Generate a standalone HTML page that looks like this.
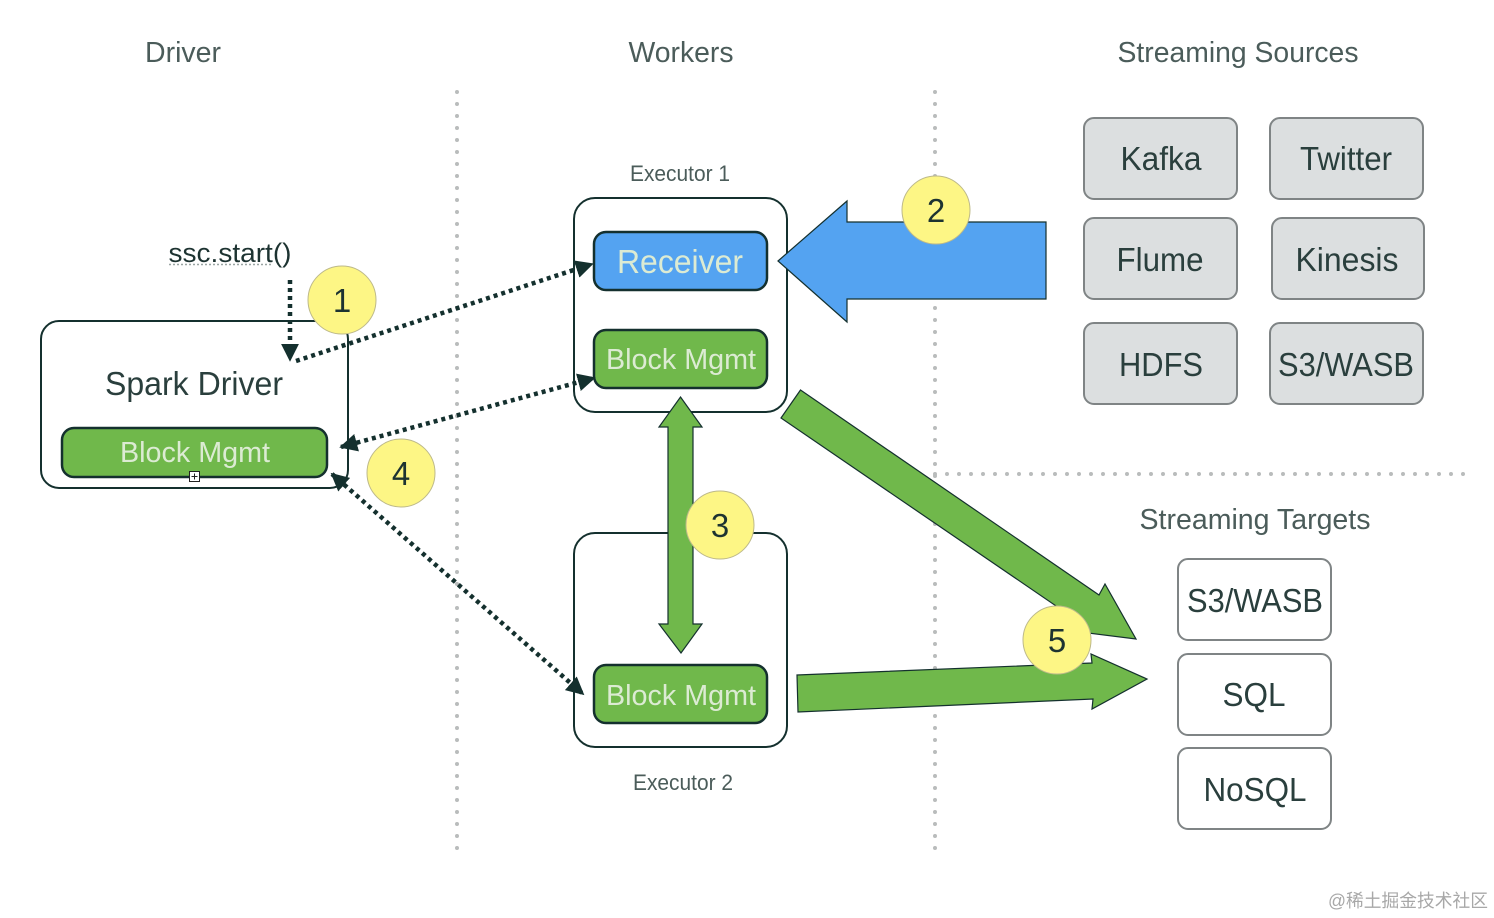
<!DOCTYPE html>
<html>
<head>
<meta charset="utf-8">
<style>
html,body{margin:0;padding:0;background:#fff;width:1494px;height:918px;overflow:hidden}
svg{display:block}
text{font-family:"Liberation Sans","Noto Sans CJK SC",sans-serif;fill:#1d3331;text-anchor:middle}
.h{font-size:29px;fill:#4b5c5a}
.b{font-size:33px;fill:#2a3f3d}
.w{fill:#dcebd3;font-size:29px}
.c{font-size:33px}
.e{font-size:22px;fill:#4b5c5a}
</style>
</head>
<body>
<svg width="1494" height="918" viewBox="0 0 1494 918" xmlns="http://www.w3.org/2000/svg">
<defs>
<marker id="ah" viewBox="0 0 10 10" refX="9" refY="5" markerWidth="18" markerHeight="18" markerUnits="userSpaceOnUse" orient="auto"><path d="M0 0L10 5L0 10Z" fill="#14302e"/></marker>
<marker id="as" viewBox="0 0 10 10" refX="9" refY="5" markerWidth="18" markerHeight="18" markerUnits="userSpaceOnUse" orient="auto-start-reverse"><path d="M0 0L10 5L0 10Z" fill="#14302e"/></marker>
</defs>

<!-- separators -->
<g stroke="#b9bcbc" stroke-width="4" stroke-linecap="round" stroke-dasharray="0 12" fill="none">
<path d="M457 92V852"/>
<path d="M935 92V852"/>
<path d="M935 474H1472"/>
</g>

<!-- headings -->
<text class="h" x="183" y="62" textLength="76" lengthAdjust="spacingAndGlyphs">Driver</text>
<text class="h" x="681" y="62" textLength="105" lengthAdjust="spacingAndGlyphs">Workers</text>
<text class="h" x="1238" y="62" textLength="241" lengthAdjust="spacingAndGlyphs">Streaming Sources</text>
<text class="h" x="1255" y="529" textLength="231" lengthAdjust="spacingAndGlyphs">Streaming Targets</text>
<text class="e" x="680" y="181" textLength="100" lengthAdjust="spacingAndGlyphs">Executor 1</text>
<text class="e" x="683" y="790" textLength="100" lengthAdjust="spacingAndGlyphs">Executor 2</text>

<!-- source boxes -->
<g fill="#dcdfe0" stroke="#7f8485" stroke-width="2">
<rect x="1084" y="118" width="153" height="81" rx="10"/>
<rect x="1270" y="118" width="153" height="81" rx="10"/>
<rect x="1084" y="218" width="153" height="81" rx="10"/>
<rect x="1272" y="218" width="152" height="81" rx="10"/>
<rect x="1084" y="323" width="153" height="81" rx="10"/>
<rect x="1270" y="323" width="153" height="81" rx="10"/>
</g>
<text class="b" x="1161" y="170" textLength="81" lengthAdjust="spacingAndGlyphs">Kafka</text>
<text class="b" x="1346" y="170" textLength="92" lengthAdjust="spacingAndGlyphs">Twitter</text>
<text class="b" x="1160" y="271" textLength="87" lengthAdjust="spacingAndGlyphs">Flume</text>
<text class="b" x="1347" y="271" textLength="103" lengthAdjust="spacingAndGlyphs">Kinesis</text>
<text class="b" x="1161" y="376" textLength="84" lengthAdjust="spacingAndGlyphs">HDFS</text>
<text class="b" x="1346" y="376" textLength="136" lengthAdjust="spacingAndGlyphs">S3/WASB</text>

<!-- target boxes -->
<g fill="#fff" stroke="#7f8485" stroke-width="2">
<rect x="1178" y="559" width="153" height="81" rx="10"/>
<rect x="1178" y="654" width="153" height="81" rx="10"/>
<rect x="1178" y="748" width="153" height="81" rx="10"/>
</g>
<text class="b" x="1255" y="612" textLength="136" lengthAdjust="spacingAndGlyphs">S3/WASB</text>
<text class="b" x="1254" y="706" textLength="63" lengthAdjust="spacingAndGlyphs">SQL</text>
<text class="b" x="1255" y="801" textLength="103" lengthAdjust="spacingAndGlyphs">NoSQL</text>

<!-- executors and driver -->
<g fill="#fff" stroke="#14302e" stroke-width="2">
<rect x="41" y="321" width="307" height="167" rx="18"/>
<rect x="574" y="198" width="213" height="214" rx="21"/>
<rect x="574" y="533" width="213" height="214" rx="21"/>
</g>
<text x="194" y="395" font-size="33" style="fill:#2a3f3d" textLength="178" lengthAdjust="spacingAndGlyphs">Spark Driver</text>

<g stroke="#14302e" stroke-width="2.5">
<rect x="62" y="428" width="265" height="49" rx="12" fill="#70b84b"/>
<rect x="594" y="232" width="173" height="58" rx="12" fill="#54a3f1"/>
<rect x="594" y="330" width="173" height="58" rx="12" fill="#70b84b"/>
<rect x="594" y="665" width="173" height="58" rx="12" fill="#70b84b"/>
</g>
<text class="w" x="195" y="462" textLength="150" lengthAdjust="spacingAndGlyphs">Block Mgmt</text>
<text class="w" x="680" y="273" style="font-size:33px" textLength="126" lengthAdjust="spacingAndGlyphs">Receiver</text>
<text class="w" x="681" y="369" textLength="150" lengthAdjust="spacingAndGlyphs">Block Mgmt</text>
<text class="w" x="681" y="705" textLength="150" lengthAdjust="spacingAndGlyphs">Block Mgmt</text>

<!-- small handle -->
<rect x="189.500" y="471.500" width="10" height="10" fill="#fff" stroke="#222" stroke-width="1"/>
<path d="M191.500 476.500h6M194.500 473.500v6" stroke="#222" stroke-width="1"/>

<!-- ssc.start -->
<text x="230" y="262" font-size="27" style="fill:#1d3331" textLength="123" lengthAdjust="spacingAndGlyphs">ssc.start()</text>
<path d="M169 264.500H272" stroke="#9aa5a3" stroke-width="1.500" stroke-dasharray="2 2"/>

<!-- dotted connectors -->
<g fill="none" stroke="#14302e" stroke-width="4.500" stroke-dasharray="4 4">
<path d="M290 280V360" marker-end="url(#ah)"/>
<path d="M296 361L592 264" marker-end="url(#ah)"/>
<path d="M341 447L594 378" marker-start="url(#as)" marker-end="url(#as)"/>
<path d="M332 474L583 694" marker-start="url(#as)" marker-end="url(#as)"/>
</g>

<!-- block arrows -->
<g stroke="#14302e" stroke-width="1.200" stroke-linejoin="miter">
<path d="M778 261L847 201V222H1046V299H847V322Z" fill="#54a3f1"/>
<path d="M680.500 397L702 427H693V624H702L681 653L659 624H668V427H659Z" fill="#70b84b"/>
<path d="M800.500 390L1099 595L1105 584L1136 639L1072 631L1081 623L781 418Z" fill="#70b84b"/>
<path d="M797 675L1092 663L1091 654L1147 679L1092 709L1093 699L798 712Z" fill="#70b84b"/>
</g>

<!-- numbered circles -->
<g fill="#fdf685" stroke="#bdb98a" stroke-width="1">
<circle cx="342" cy="300" r="34"/>
<circle cx="936" cy="210" r="34"/>
<circle cx="720" cy="525" r="34"/>
<circle cx="401" cy="473" r="34"/>
<circle cx="1057" cy="640" r="34"/>
</g>
<text class="c" x="342" y="312">1</text>
<text class="c" x="936" y="222">2</text>
<text class="c" x="720" y="537">3</text>
<text class="c" x="401" y="485">4</text>
<text class="c" x="1057" y="652">5</text>

<!-- watermark -->
<text x="1408" y="907" font-size="18" style="fill:#a8a8a8" textLength="160" lengthAdjust="spacingAndGlyphs">@稀土掘金技术社区</text>
</svg>
</body>
</html>
